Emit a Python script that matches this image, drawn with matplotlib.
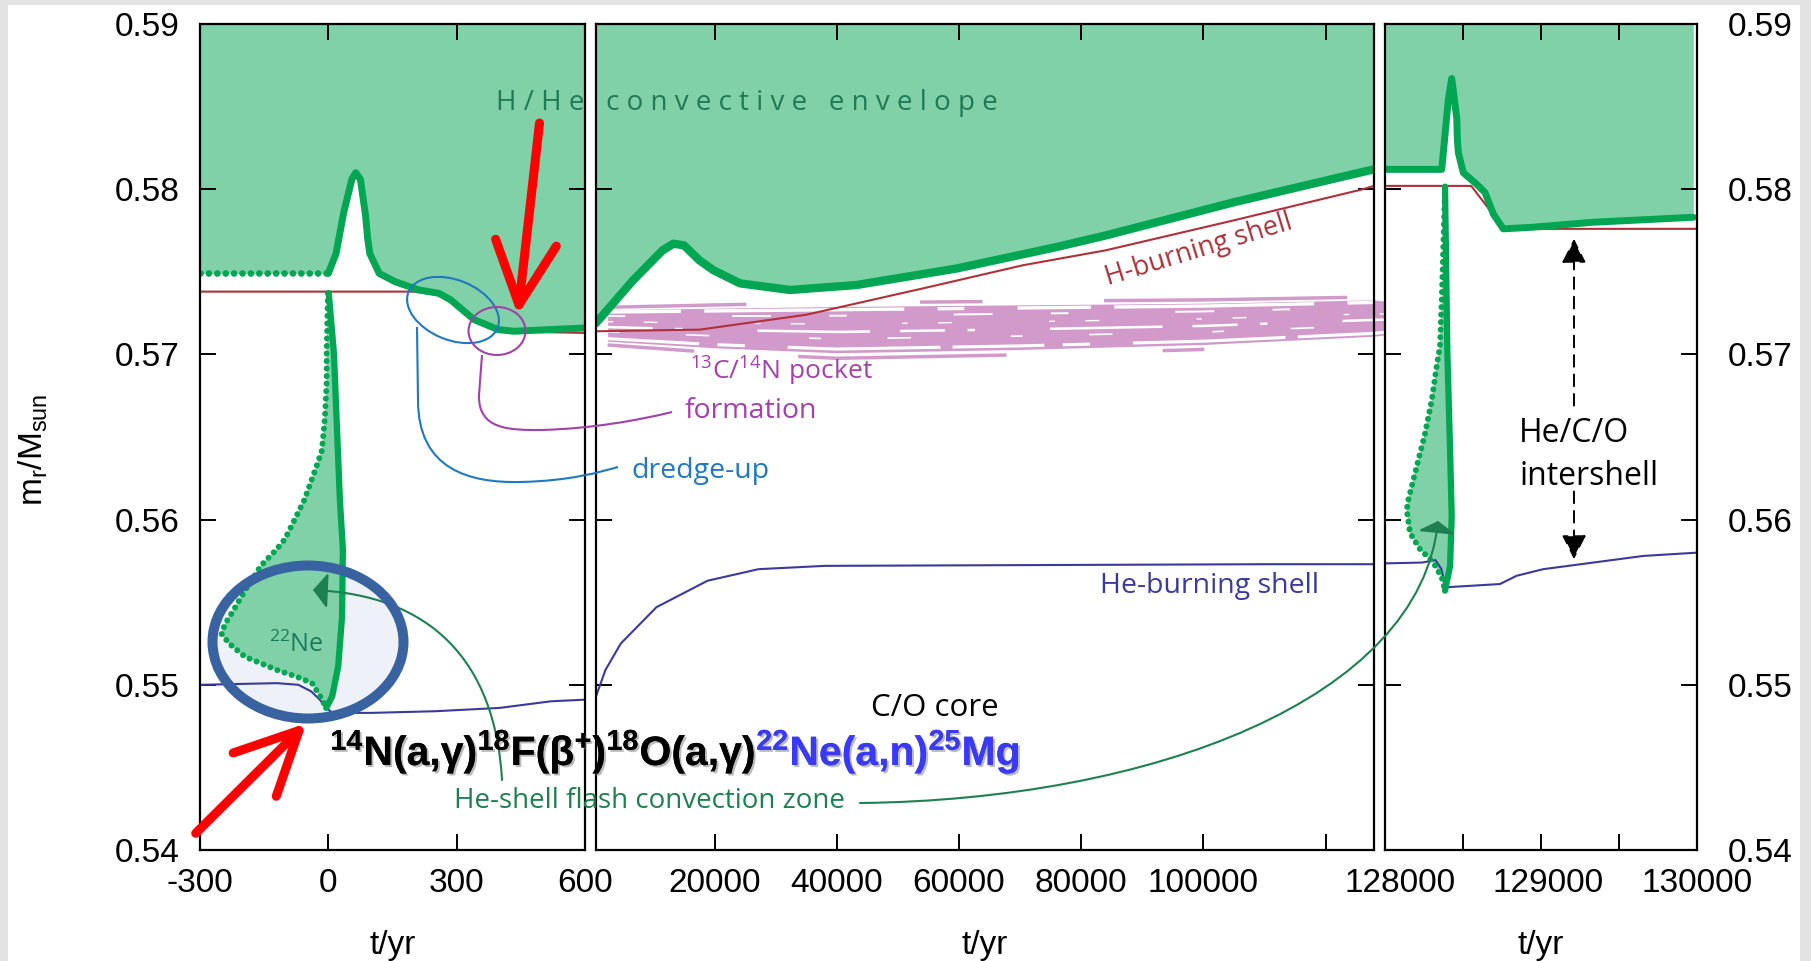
import numpy as np
import matplotlib
matplotlib.use("Agg")
import matplotlib.pyplot as plt
import matplotlib.patheffects as pe
from matplotlib import patches, transforms
from matplotlib.path import Path
from matplotlib.text import Annotation

W, H = 1811, 961

# ---- time axis (yr) and mass coordinate (Msun) of the structural boundaries ----
m_ticks = [0.54, 0.55, 0.56, 0.57, 0.58, 0.59]
m_ticklabels = ['0.54', '0.55', '0.56', '0.57', '0.58', '0.59']

# lower edge of the H/He convective envelope
env_pre_t = [-300, 0]
env_pre_m = [0.5749, 0.5749]
env_l_t = [0, 18, 36, 55, 64, 75, 87, 92, 97, 119, 156, 212, 258, 286, 341, 397, 434, 600]
env_l_m = [0.5749, 0.5761, 0.5786, 0.5806, 0.5810, 0.5806, 0.5784, 0.5770, 0.5761, 0.5749,
           0.5744, 0.5739, 0.5737, 0.5733, 0.5721, 0.5715, 0.5714, 0.5716]
env_m_t = [600, 6700, 11500, 13250, 15000, 17500, 19790, 24160, 32340, 43250, 59610, 75980,
           84000, 104870, 126690, 127900]
env_m_m = [0.5719, 0.5745, 0.5763, 0.5767, 0.5766, 0.5757, 0.5751, 0.5743, 0.5739, 0.5742,
           0.5752, 0.5765, 0.5772, 0.5792, 0.5811, 0.5812]
env_r_t = [127900, 128100, 128282, 128326, 128349, 128383, 128387, 128394, 128427, 128517,
           128573, 128629, 128696, 128898, 129302, 129975]
env_r_m = [0.5812, 0.5812, 0.5812, 0.5854, 0.5867, 0.5843, 0.5830, 0.5822, 0.5810, 0.5803,
           0.5798, 0.5785, 0.5776, 0.5777, 0.5780, 0.5783]

# H-burning shell
hs_l_t = [-300, 200, 260, 290, 340, 400, 600]
hs_l_m = [0.5738, 0.5738, 0.5736, 0.5732, 0.5721, 0.5714, 0.5713]
hs_m_t = [600, 17600, 35000, 54150, 70500, 84000, 104800, 126100, 127900]
hs_m_m = [0.5714, 0.5715, 0.5724, 0.5740, 0.5754, 0.5763, 0.5781, 0.5800, 0.5802]
hs_r_t = [127900, 128480, 128600, 128700, 130000]
hs_r_m = [0.5802, 0.5802, 0.5788, 0.5776, 0.5776]

# He-burning shell
hes_l_t = [-300, -120, -70, -40, -20, -5, 10, 100, 250, 400, 520, 600]
hes_l_m = [0.5500, 0.5501, 0.5500, 0.5496, 0.5491, 0.5486, 0.5483, 0.5483, 0.5484, 0.5486,
           0.5490, 0.5491]
hes_m_t = [600, 2150, 4660, 10500, 18850, 27200, 38050, 110600, 127900]
hes_m_m = [0.5493, 0.5509, 0.5525, 0.5547, 0.5563, 0.5570, 0.5572, 0.5573, 0.5573]
hes_r_t = [127900, 128150, 128240, 128280, 128295, 128304, 128674, 128786, 128965, 129302,
           129638, 130000]
hes_r_m = [0.55735, 0.5574, 0.55755, 0.5570, 0.5564, 0.5559, 0.5561, 0.5566, 0.5570,
           0.5574, 0.5578, 0.5580]

# He-shell flash convection zones (outer dotted edge, inner solid edge)
hez_l_out_t = [-1, -4, -4, -8, -15, -28, -42, -56, -75, -102, -121, -158, -195, -222, -241,
               -250, -232, -195, -158, -121, -75, -38, -19, -5]
hez_l_out_m = [0.5737, 0.5701, 0.5683, 0.5662, 0.5642, 0.5632, 0.5622, 0.5612, 0.5602,
               0.5588, 0.5582, 0.5572, 0.5557, 0.5545, 0.5537, 0.5531, 0.5525, 0.5517,
               0.5513, 0.5509, 0.5505, 0.5501, 0.5493, 0.5486]
hez_l_in_t = [1, 13, 27, 34, 32, 23, 9, -5]
hez_l_in_m = [0.5737, 0.5701, 0.5612, 0.5582, 0.5541, 0.5511, 0.5493, 0.5486]
hez_r_out_t = [128304, 128282, 128270, 128248, 128214, 128169, 128113, 128057, 128046,
               128068, 128136, 128225, 128282, 128304]
hez_r_out_m = [0.58015, 0.5733, 0.5705, 0.5693, 0.5672, 0.5652, 0.5632, 0.5612, 0.5606,
               0.5592, 0.5582, 0.5574, 0.5565, 0.5557]
hez_r_in_t = [128304, 128320, 128338, 128349, 128338, 128304]
hez_r_in_m = [0.58015, 0.5700, 0.5642, 0.5602, 0.5572, 0.5557]

# 13C/14N pocket band
pocket_t = [2500, 20000, 40000, 70000, 100000, 127900, 137000]
pocket_top = [0.5727, 0.5728, 0.5729, 0.5730, 0.5731, 0.5733, 0.5729]
pocket_bot = [0.5708, 0.5704, 0.5701, 0.5703, 0.5706, 0.5711, 0.5715]

# intershell arrows (right panel)
intershell_t = 129172

fill_c = '#80d0a8'
line_c = '#00a651'
hs_c = '#b0303a'
hes_c = '#3a3a9c'
pink = '#d29acb'
note_g = '#1e8050'
dots = (0, (0.01, 1.25))

plt.rcParams['font.family'] = ['Liberation Sans', 'DejaVu Sans']
sans = ['Open Sans', 'DejaVu Sans']

fig = plt.figure(figsize=(W / 100, H / 100), dpi=100)
fig.patch.set_facecolor('#e3e3e3')
fig.add_artist(patches.Rectangle((8 / W, 0), 1792 / W, 956 / H, transform=fig.transFigure,
                                 facecolor='white', edgecolor='none', zorder=-10))

y0, hgt = 111 / H, 826 / H
ax_l = fig.add_axes([200 / W, y0, 385 / W, hgt])
ax_m = fig.add_axes([596 / W, y0, 778 / W, hgt])
ax_r = fig.add_axes([1385 / W, y0, 312 / W, hgt])

for ax in (ax_l, ax_m, ax_r):
    ax.set_ylim(0.54, 0.59)
    ax.set_yticks(m_ticks)
    ax.set_yticklabels(m_ticklabels)
    ax.tick_params(which='both', direction='in', length=11.5, width=1.4, top=True, right=True,
                   labelsize=24, labelleft=False, labelright=False)
    ax.tick_params(axis='x', pad=13)
    for s in ax.spines.values():
        s.set_linewidth(1.6)
        s.set_zorder(6)
    ax.set_xlabel('t/yr', fontsize=24, labelpad=22)

ax_l.tick_params(axis='y', labelleft=True, pad=15)
ax_r.tick_params(axis='y', labelright=True, pad=22)

ax_l.set_xlim(-300, 600)
ax_l.set_xticks([-300, 0, 300, 600])
ax_l.set_xticklabels(['-300', '0', '300', '600'])
ax_m.set_xlim(600, 127900)
ax_m.set_xticks([20000, 40000, 60000, 80000, 100000, 120000])
ax_m.set_xticklabels(['20000', '40000', '60000', '80000', '100000', ''])
ax_r.set_xlim(127900, 130000)
ax_r.set_xticks([128000, 129000, 130000])
ax_r.set_xticklabels(['128000', '129000', '130000'])
ax_r.set_xticks([128425, 128950, 129475], minor=True)
ax_r.tick_params(axis='x', which='major', length=0)

# convective envelope
ax_l.fill_between(env_pre_t + env_l_t, env_pre_m + env_l_m, 0.59, color=fill_c, lw=0, zorder=1)
ax_l.plot(env_pre_t, env_pre_m, color=line_c, lw=4.8, ls=dots, dash_capstyle='round', zorder=4)
ax_l.plot(env_l_t, env_l_m, color=line_c, lw=5, solid_capstyle='round', zorder=4)
ax_m.fill_between(env_m_t, env_m_m, 0.59, color=fill_c, lw=0, zorder=1)
ax_m.plot(env_m_t, env_m_m, color=line_c, lw=6, solid_capstyle='round', zorder=4)
ax_r.fill_between(env_r_t, env_r_m, 0.59, color=fill_c, lw=0, zorder=1)
ax_r.plot(env_r_t, env_r_m, color=line_c, lw=5, solid_capstyle='round', zorder=4)

# 13C pocket, drawn as a rough brush stroke
pt, pb = np.array(pocket_top), np.array(pocket_bot)
ax_m.fill_between(pocket_t, pb, pt, color=pink, lw=0, clip_on=False, zorder=1.5)
for frac, lw, dash in [(0.08, 2.2, (30, 6, 9, 14, 50, 4)), (0.3, 1.2, (7, 40, 14, 60)),
                       (0.45, 1.8, (18, 9, 3, 30, 45, 12)), (0.62, 1.0, (4, 22, 10, 70)),
                       (0.8, 1.4, (9, 55, 20, 30)), (0.93, 2.4, (22, 7, 60, 10, 8, 16))]:
    ax_m.plot(pocket_t, pb + frac * (pt - pb), color='white', lw=lw, dashes=dash,
              clip_on=False, zorder=1.6, solid_capstyle='butt')
for frac, dash in [(-0.12, (25, 30, 60, 45, 12, 80)), (1.08, (40, 50, 18, 35, 70, 60))]:
    ax_m.plot(pocket_t, pb + frac * (pt - pb), color=pink, lw=2.5, dashes=dash,
              clip_on=False, zorder=1.5)

# burning shells
ax_l.plot(hs_l_t, hs_l_m, color=hs_c, lw=1.5, zorder=2)
ax_m.plot(hs_m_t, hs_m_m, color=hs_c, lw=1.5, zorder=2)
ax_r.plot(hs_r_t, hs_r_m, color=hs_c, lw=1.5, zorder=2)
ax_l.plot(hes_l_t, hes_l_m, color=hes_c, lw=1.5, zorder=2)
ax_m.plot(hes_m_t, hes_m_m, color=hes_c, lw=1.5, zorder=2)
ax_r.plot(hes_r_t, hes_r_m, color=hes_c, lw=1.5, zorder=2)

# He-shell flash convection zones
for ax, ot, om, it, im in [(ax_l, hez_l_out_t, hez_l_out_m, hez_l_in_t, hez_l_in_m),
                           (ax_r, hez_r_out_t, hez_r_out_m, hez_r_in_t, hez_r_in_m)]:
    ax.fill(np.r_[ot, it[::-1]], np.r_[om, im[::-1]], color=fill_c, lw=0, zorder=1.8)
    ax.plot(ot, om, color=line_c, lw=4.3, ls=dots, dash_capstyle='round', zorder=3)
    ax.plot(it, im, color=line_c, lw=4.5, solid_capstyle='round', zorder=3)

# intershell arrows
arrow_kw = dict(arrowstyle='-|>,head_length=0.6,head_width=0.3', color='black', lw=1.4,
                linestyle=(0, (6, 4)), mutation_scale=25, shrinkA=0, shrinkB=0)
ax_r.annotate('', xy=(intershell_t, hs_r_m[-1] - 0.0006), xytext=(intershell_t, 0.5669),
              arrowprops=arrow_kw)
ax_r.annotate('', xy=(intershell_t, 0.5576), xytext=(intershell_t, 0.5617),
              arrowprops=arrow_kw)

# ---- overlay annotations, in pixel coordinates from the top-left corner ----
px = transforms.Affine2D().scale(1 / W, -1 / H).translate(0, 1) + fig.transFigure


def note(x, y, s, color, size=20.5, **kw):
    kw.setdefault('va', 'baseline')
    return fig.text(x / W, 1 - y / H, s, color=color, fontsize=size, family=sans, **kw)


def callout(pts, codes, color, lw=1.5, arrow=None):
    p = Path(pts, codes)
    if arrow:
        art = patches.FancyArrowPatch(path=p, arrowstyle=arrow, color=color, lw=lw,
                                      mutation_scale=100, transform=px)
    else:
        art = patches.PathPatch(p, facecolor='none', edgecolor=color, lw=lw, transform=px)
    art.set_zorder(8)
    fig.add_artist(art)


L, C = Path.LINETO, Path.CURVE4
M = Path.MOVETO

# 22Ne highlight
face = patches.Ellipse((308, 642), 191, 153, facecolor='#eef1f7', edgecolor='none',
                       transform=px, zorder=0.5)
ax_l.add_patch(face)
face.set_clip_on(False)
fig.add_artist(patches.Ellipse((308, 642), 191, 153, facecolor='none', edgecolor='#3863a0',
                               lw=7.2, transform=px, zorder=9))
note(296, 652, r'$\mathregular{^{22}Ne}$', '#1a7a5a', size=18, ha='center')

# dredge-up / pocket formation
fig.add_artist(patches.Ellipse((453, 310), 96, 60, angle=22, facecolor='none',
                               edgecolor='#1f78c0', lw=1.5, transform=px, zorder=8))
fig.add_artist(patches.Ellipse((497, 331), 57, 48, facecolor='none',
                               edgecolor='#a042a8', lw=1.5, transform=px, zorder=8))
callout([(417, 327), (418, 400), (418, 470), (470, 483), (520, 482), (570, 481), (600, 472),
         (618, 467)], [M, L, C, C, C, C, C, C], '#1f78c0')
callout([(482, 355), (479, 395), (478, 430), (510, 430), (540, 430), (590, 429), (640, 420),
         (672, 412)], [M, L, C, C, C, C, C, C], '#a042a8')
note(631, 478, 'dredge-up', '#1f78c0')
note(685, 418, 'formation', '#a042a8')
note(690, 380, r'$\mathregular{^{13}C/^{14}N\ pocket}$', '#a042a8', size=19)

# convection zone labels
note(454, 808, 'He-shell flash convection zone', note_g, size=20)
callout([(502, 780), (495, 660), (430, 595), (313, 590)], [M, C, C, C], note_g, lw=1.5,
        arrow='-|>,head_length=0.09,head_width=0.11')
callout([(860, 803), (1150, 800), (1420, 700), (1438, 521)], [M, C, C, C], note_g, lw=1.5,
        arrow='-|>,head_length=0.07,head_width=0.115')

note(496, 110, 'H / H e   c o n v e c t i v e   e n v e l o p e', '#1f7a55', size=20)
fig.text(1199 / W, 1 - 250 / H, 'H-burning shell', color='#a8323a', fontsize=19.5,
         family=sans, rotation=17, rotation_mode='anchor', ha='center', va='center')
note(1100, 593, 'He-burning shell', hes_c)
note(871, 716, 'C/O core', 'black', size=22.5)
note(1519, 442, 'He/C/O', 'black', size=23)
note(1519, 485, 'intershell', 'black', size=23)

# red pointers
for tail, tip in [((539.5, 123), (517.8, 315)), ((195.7, 833.3), (306.3, 723.3))]:
    fig.add_artist(patches.FancyArrowPatch(tail, tip, transform=px, color='#ff0000', lw=6.5,
                                           arrowstyle='->,head_length=0.45,head_width=0.22',
                                           mutation_scale=100, shrinkA=0, shrinkB=0,
                                           zorder=10))

# reaction chain
shadow = [pe.withSimplePatchShadow(offset=(1.5, -1.5), shadow_rgbFace='#777777', alpha=0.5),
          pe.Normal()]
chain = fig.text(330 / W, 1 - 765 / H,
                 r'$\mathregular{^{14}N(a{,}γ)^{18}F(β^{+})^{18}O(a{,}γ)}$',
                 fontsize=29.5, fontweight='bold', color='black', va='baseline',
                 path_effects=shadow, zorder=9)
chain_ne = Annotation(r'$\mathregular{^{22}Ne(a{,}n)^{25}Mg}$', xy=(1, 0), xycoords=chain,
                      va='bottom', ha='left', fontsize=29.5, fontweight='bold',
                      color='#3a3af5', path_effects=shadow, annotation_clip=False)
chain_ne.set_zorder(9)
fig.add_artist(chain_ne)

fig.text(33 / W, 1 - 450 / H, r'$\mathregular{m_r/M_{sun}}$', rotation=90, fontsize=24,
         ha='center', va='center')

fig.savefig('out.png', dpi=100, facecolor=fig.get_facecolor())
